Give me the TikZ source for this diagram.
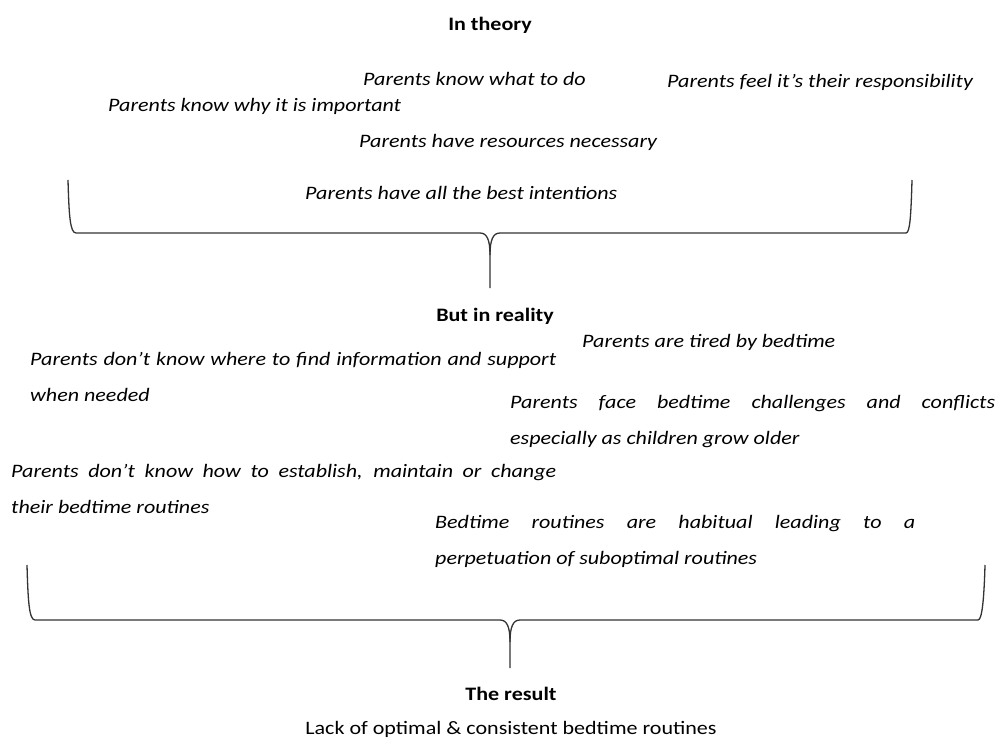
\documentclass[tikz,border=0pt]{standalone}
\usepackage{fontspec}
\setmainfont[FakeStretch=1.16]{Carlito}
\usepackage{tikz}
\hyphenpenalty=10000
\exhyphenpenalty=10000

\begin{document}
\begin{tikzpicture}[x=1pt, y=-1pt,
basetext/.style={inner sep=0pt, anchor=base west, font=\fontsize{19}{36}\selectfont},
heading/.style={basetext, anchor=base, font=\fontsize{19}{36}\selectfont\bfseries},
idea/.style={basetext, font=\fontsize{19}{36}\selectfont\itshape},
longidea/.style={idea, align=justify},
brace/.style={draw=black!80, line width=1.3pt, line join=round},
]
\useasboundingbox (0,0) rectangle (998,738);

% in theory
\node (theory) [heading] at (490,31) {In theory};
\node (knowwhat) [idea] at (363,86) {Parents know what to do};
\node (feel) [idea] at (667,88) {Parents feel it’s their responsibility};
\node (knowwhy) [idea] at (108,112) {Parents know why it is important};
\node (resources) [idea] at (359,148) {Parents have resources necessary};
\node (intentions) [idea] at (305,200) {Parents have all the best intentions};

% but in reality
\node (reality) [heading] at (495,321) {But in reality};
\node (tired) [idea] at (582,347) {Parents are tired by bedtime};
\node (findinfo) [longidea, text width=526pt] at (30,365) {Parents don’t know where to find information and support when needed};
\node (challenges) [longidea, text width=485pt] at (510,408) {Parents face bedtime challenges and conflicts especially as children grow older};
\node (establish) [longidea, text width=545pt] at (11,477) {Parents don’t know how to establish, maintain or change\linebreak their bedtime routines};
\node (habitual) [longidea, text width=480pt] at (435,528) {Bedtime routines are habitual leading to a perpetuation of suboptimal routines};

% the result
\node (result) [heading] at (511,700) {The result};
\node (lack) [basetext, anchor=base] at (511,734) {Lack of optimal \& consistent bedtime routines};

\draw[brace] (68,180) .. controls (69,215) and (70,233) .. (76,233) -- (480,233)
  .. controls (487,233) and (490,240) .. (490,255) -- (490,288);
\draw[brace] (490,255) .. controls (490,240) and (493,233) .. (500,233) -- (906,233)
  .. controls (910,233) and (911,215) .. (912,180);

\draw[brace] (27,565) .. controls (28,600) and (29,620) .. (35,620) -- (500,620)
  .. controls (507,620) and (510,627) .. (510,642) -- (510,668);
\draw[brace] (510,642) .. controls (510,627) and (513,620) .. (520,620) -- (978,620)
  .. controls (982,620) and (984,600) .. (985,565);

\end{tikzpicture}
\end{document}
